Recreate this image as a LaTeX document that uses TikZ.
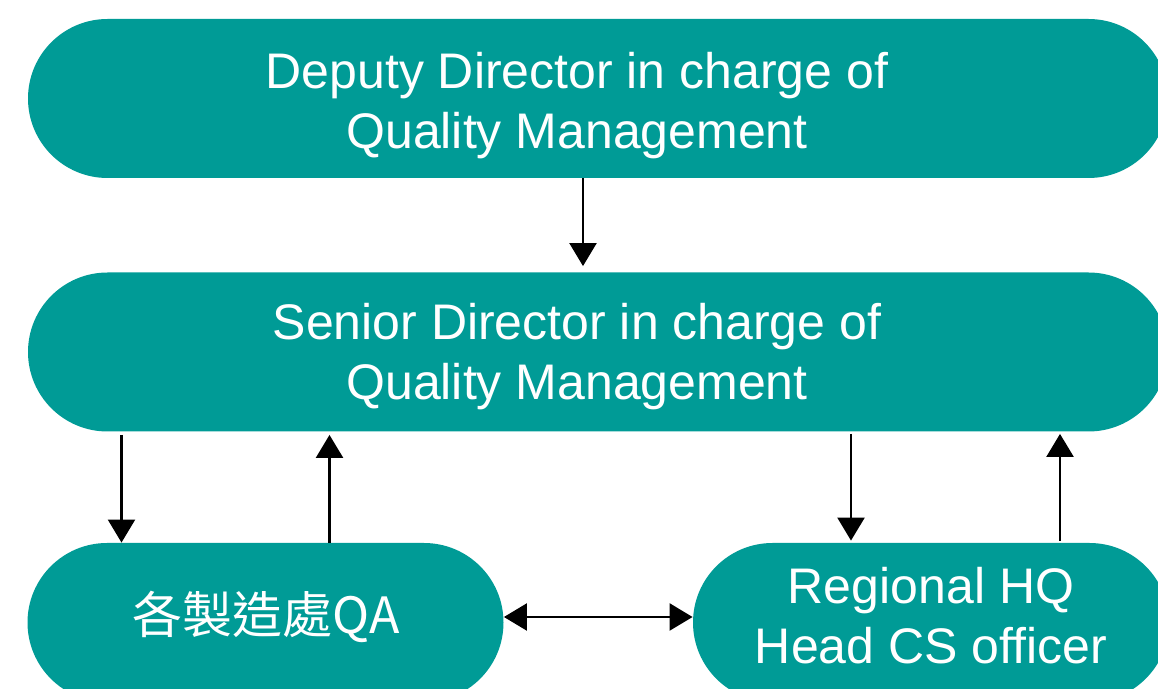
\documentclass[tikz,border=0pt]{standalone}
\usepackage{fontspec}
\setmainfont{Liberation Sans}
\newfontfamily\cjkfont{Noto Sans CJK TC}
\usetikzlibrary{arrows.meta}
\usetikzlibrary{shapes.misc}
\definecolor{qmteal}{RGB}{0,155,150}
\newcommand{\widthwide}{570pt}
\newcommand{\widthsmall}{238pt}
\newcommand{\heightbox}{79.5pt}
\newcommand{\boxfont}{\fontsize{25pt}{30pt}\selectfont}
\tikzset{
    common/.style={rounded rectangle, fill=qmteal, draw=none, minimum height=\heightbox, inner sep=0pt},
    widebox/.style={common, minimum width=\widthwide},
    smallbox/.style={common, minimum width=\widthsmall},
    boxtext/.style={text=white, align=center, font=\boxfont, inner sep=0pt},
    flow/.style={line width=1.15pt, -{Triangle[length=11.5pt,width=13.5pt]}},
    twoway/.style={line width=1.15pt, {Triangle[length=11.5pt,width=13.5pt]}-{Triangle[length=11.5pt,width=13.5pt]}}
}

\begin{document}
\begin{tikzpicture}[x=0.5pt, y=-0.5pt]
    \useasboundingbox (0,0) rectangle (1158,689);
    \clip (0,0) rectangle (1158,689);

    \node[widebox] (deputy) at (598,98.5) {};
    \node[boxtext] (deputytext) at (577,106) {Deputy Director in charge of\\Quality Management};
    \node[widebox] (senior) at (598,352) {};
    \node[boxtext] (seniortext) at (577,357) {Senior Director in charge of\\Quality Management};
    \node[smallbox] (plantqa) at (265.5,622.5) {};
    \node[boxtext] (plantqatext) at (266,617) {\cjkfont 各製造處QA};
    \node[smallbox] (regionhq) at (931,622.5) {};
    \node[boxtext] (regionhqtext) at (931,616) {Regional HQ\\Head CS officer};

    \draw[flow, shorten >=3pt] ([xshift=-7.5pt]deputy.south) -- ([xshift=-7.5pt]deputy.south |- senior.north);
    \draw[flow, shorten <=1.5pt] ([xshift=-72pt]plantqa.north |- senior.south) -- ([xshift=-72pt]plantqa.north);
    \draw[flow, shorten >=1.5pt] ([xshift=32pt]plantqa.north) -- ([xshift=32pt]plantqa.north |- senior.south);
    \draw[flow, shorten <=1pt, shorten >=1pt] ([xshift=-40pt]regionhq.north |- senior.south) -- ([xshift=-40pt]regionhq.north);
    \draw[flow, shorten <=1pt, shorten >=1pt] ([xshift=64.5pt]regionhq.north) -- ([xshift=64.5pt]regionhq.north |- senior.south);
    \draw[twoway] ([yshift=2.75pt]plantqa.east) -- ([yshift=2.75pt]regionhq.west);
\end{tikzpicture}
\end{document}
